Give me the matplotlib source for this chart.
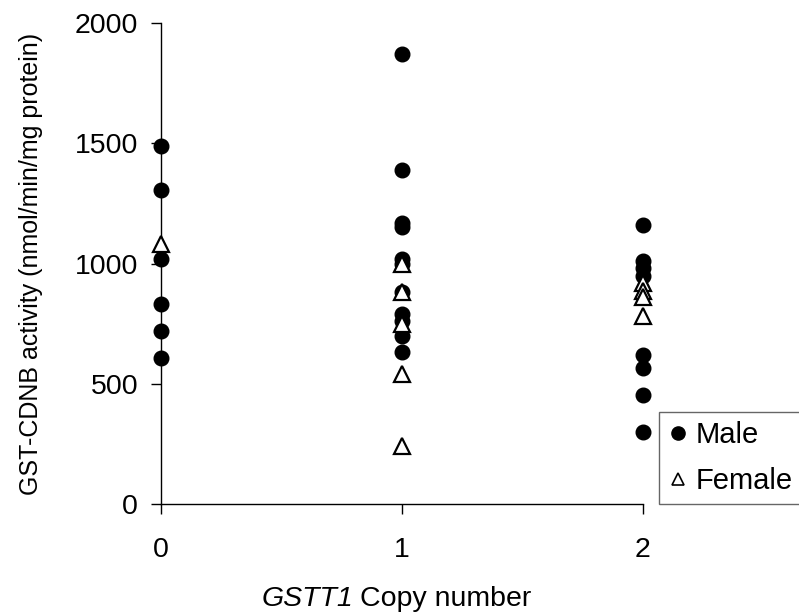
import matplotlib
matplotlib.use("Agg")
import matplotlib.pyplot as plt
from matplotlib.lines import Line2D

plt.rcParams['font.family'] = ['Liberation Sans', 'DejaVu Sans']

# Data
male_x = [0, 0, 0, 0, 0, 0,
          1, 1, 1, 1, 1, 1, 1, 1, 1, 1, 1,
          2, 2, 2, 2, 2, 2, 2, 2]
male_y = [1490, 1305, 1020, 830, 720, 605,
          1870, 1390, 1170, 1150, 1020, 1000, 880, 790, 760, 700, 630,
          1160, 1010, 980, 950, 620, 565, 455, 300]
female_x = [0,
            1, 1, 1, 1, 1,
            2, 2, 2, 2]
female_y = [1080,
            1000, 880, 750, 540, 240,
            920, 885, 860, 780]
x_ticks = [0, 1, 2]
y_ticks = [0, 500, 1000, 1500, 2000]

W, H = 799, 615
TOP, BOTTOM, LEFT, RIGHT = 23, 504, 161, 643
fig = plt.figure(figsize=(W / 100, H / 100), dpi=100)
ax = fig.add_axes([LEFT / W, 1 - BOTTOM / H, (RIGHT - LEFT) / W, (BOTTOM - TOP) / H])

ax.plot(male_x, male_y, linestyle='none', marker='o', markersize=10.5,
        color='black', label='Male', clip_on=False, zorder=3)
ax.plot(female_x, female_y, linestyle='none', marker='^', markersize=11,
        markerfacecolor='white', markeredgecolor='black', markeredgewidth=1.6,
        label='Female', clip_on=False, zorder=4)

ax.set_xlim(0, 2)
ax.set_ylim(0, 2000)
ax.set_xticks(x_ticks)
ax.set_yticks(y_ticks)
ax.tick_params(axis='both', direction='out', width=1, labelsize=20.5,
               colors='black')
ax.tick_params(axis='x', length=7.5, pad=16)
ax.tick_params(axis='y', length=7.5, pad=9)
ax.spines['top'].set_visible(False)
ax.spines['right'].set_visible(False)
for s in ('left', 'bottom'):
    ax.spines[s].set_linewidth(1)
    ax.spines[s].set_color('black')

# Y label
fig.text(31 / W, 1 - 264 / H, 'GST-CDNB activity (nmol/min/mg protein)',
         rotation=90, ha='center', va='center', fontsize=18)

# X label: italic gene name followed by normal text
renderer = fig.canvas.get_renderer()
t1 = fig.text(262 / W, 1 - 606 / H, 'GSTT1', fontsize=20.5, style='italic',
              ha='left', va='baseline')
bb = t1.get_window_extent(renderer=renderer)
space = 6
fig.text((bb.x1 + space) / W, 1 - 606 / H, 'Copy number', fontsize=20.5,
         ha='left', va='baseline')

handles = [
    Line2D([], [], linestyle='none', marker='o', markersize=9.5, color='black'),
    Line2D([], [], linestyle='none', marker='^', markersize=9,
           markerfacecolor='white', markeredgecolor='black', markeredgewidth=1.2),
]
leg = fig.legend(handles, ['Male', 'Female'], loc='upper left',
                 bbox_to_anchor=(659 / W, 1 - 412 / H),
                 fontsize=21, frameon=True, fancybox=False, borderpad=0.3,
                 handletextpad=0.25, handlelength=0.7, labelspacing=0.62,
                 borderaxespad=0)
leg.get_frame().set_edgecolor('#404040')
leg.get_frame().set_linewidth(1)

fig.savefig('out.png', dpi=100)
